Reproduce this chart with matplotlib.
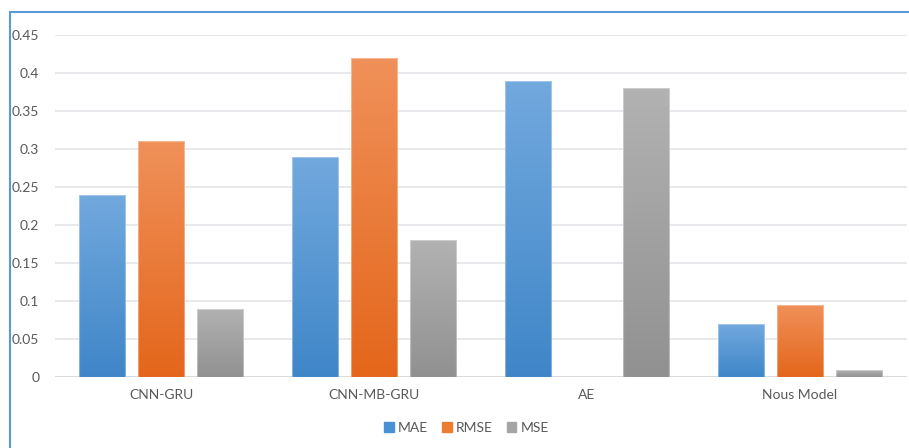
import numpy as np
import matplotlib.pyplot as plt
from matplotlib.patches import Rectangle
from matplotlib.colors import LinearSegmentedColormap

plt.rcParams['font.family'] = ['Lato', 'DejaVu Sans']

# Data
models = ["CNN-GRU", "CNN-MB-GRU", "AE", "Nous Model"]
metrics = ["MAE", "RMSE", "MSE"]
mae = [0.24, 0.29, 0.39, 0.07]
rmse = [0.31, 0.42, 0.0, 0.095]
mse = [0.09, 0.18, 0.38, 0.009]
yticks = [0, 0.05, 0.1, 0.15, 0.2, 0.25, 0.3, 0.35, 0.4, 0.45]
ytick_labels = ["0", "0.05", "0.1", "0.15", "0.2", "0.25", "0.3", "0.35", "0.4", "0.45"]

# (top colour, bottom colour, legend colour)
colours = [("#72a9de", "#3f86c8", "#4a90d4"),
           ("#f0915a", "#e4661b", "#ed7d31"),
           ("#b2b2b2", "#919191", "#a5a5a5")]

fig = plt.figure(figsize=(9.09, 4.48), dpi=100)
ax = fig.add_axes([0.06, 0.1585, 0.9373, 0.7634])

x = np.arange(len(models))
step = 0.277
width = 0.22
grad = np.linspace(0, 1, 256).reshape(-1, 1)

for i, (vals, name) in enumerate(zip([mae, rmse, mse], metrics)):
    top, bot, solid = colours[i]
    cmap = LinearSegmentedColormap.from_list(name, [bot, top])
    bars = ax.bar(x + (i - 1) * step, vals, width, color="none",
                  edgecolor="none", label=name, zorder=2)
    for b in bars:
        h = b.get_height()
        if h <= 0:
            continue
        x0 = b.get_x()
        img = ax.imshow(grad, cmap=cmap, aspect="auto", origin="lower",
                        extent=[x0, x0 + b.get_width(), 0, h], zorder=2)
        img.set_clip_path(b)
        ax.add_patch(Rectangle((x0, 0), b.get_width(), h, fill=False,
                               edgecolor="white", linewidth=0.8, alpha=0.35,
                               zorder=3))

ax.set_xlim(-0.5, 3.5)
ax.set_ylim(0, 0.45)
ax.set_yticks(yticks)
ax.set_yticklabels(ytick_labels)
ax.set_xticks(x)
ax.set_xticklabels(models)
ax.tick_params(length=0, labelsize=10, colors="#595959", pad=9)
ax.tick_params(axis="y", pad=11)
ax.grid(axis="y", color="#e3e5ea", linewidth=1.2, zorder=0)
ax.set_axisbelow(True)
for s in ax.spines.values():
    s.set_visible(False)
ax.axhline(0, color="#d9d9d9", linewidth=1.2, zorder=1)

handles = [Rectangle((0, 0), 1, 1, color=c[2]) for c in colours]
fig.legend(handles, metrics, loc="center", bbox_to_anchor=(0.513, 0.045),
           ncol=3, frameon=False, fontsize=10, handlelength=0.7,
           handleheight=0.7, handletextpad=0.3, columnspacing=1.0,
           labelcolor="#595959")

# Outer chart border (blue, only left and top fall inside the picture)
fig.add_artist(Rectangle((9.5 / 909, -0.05), 1.2, 1 - 12.5 / 448 + 0.05,
                         transform=fig.transFigure, fill=False,
                         edgecolor="#5b9bd5", linewidth=1.5))

fig.savefig("out.png", dpi=100)
